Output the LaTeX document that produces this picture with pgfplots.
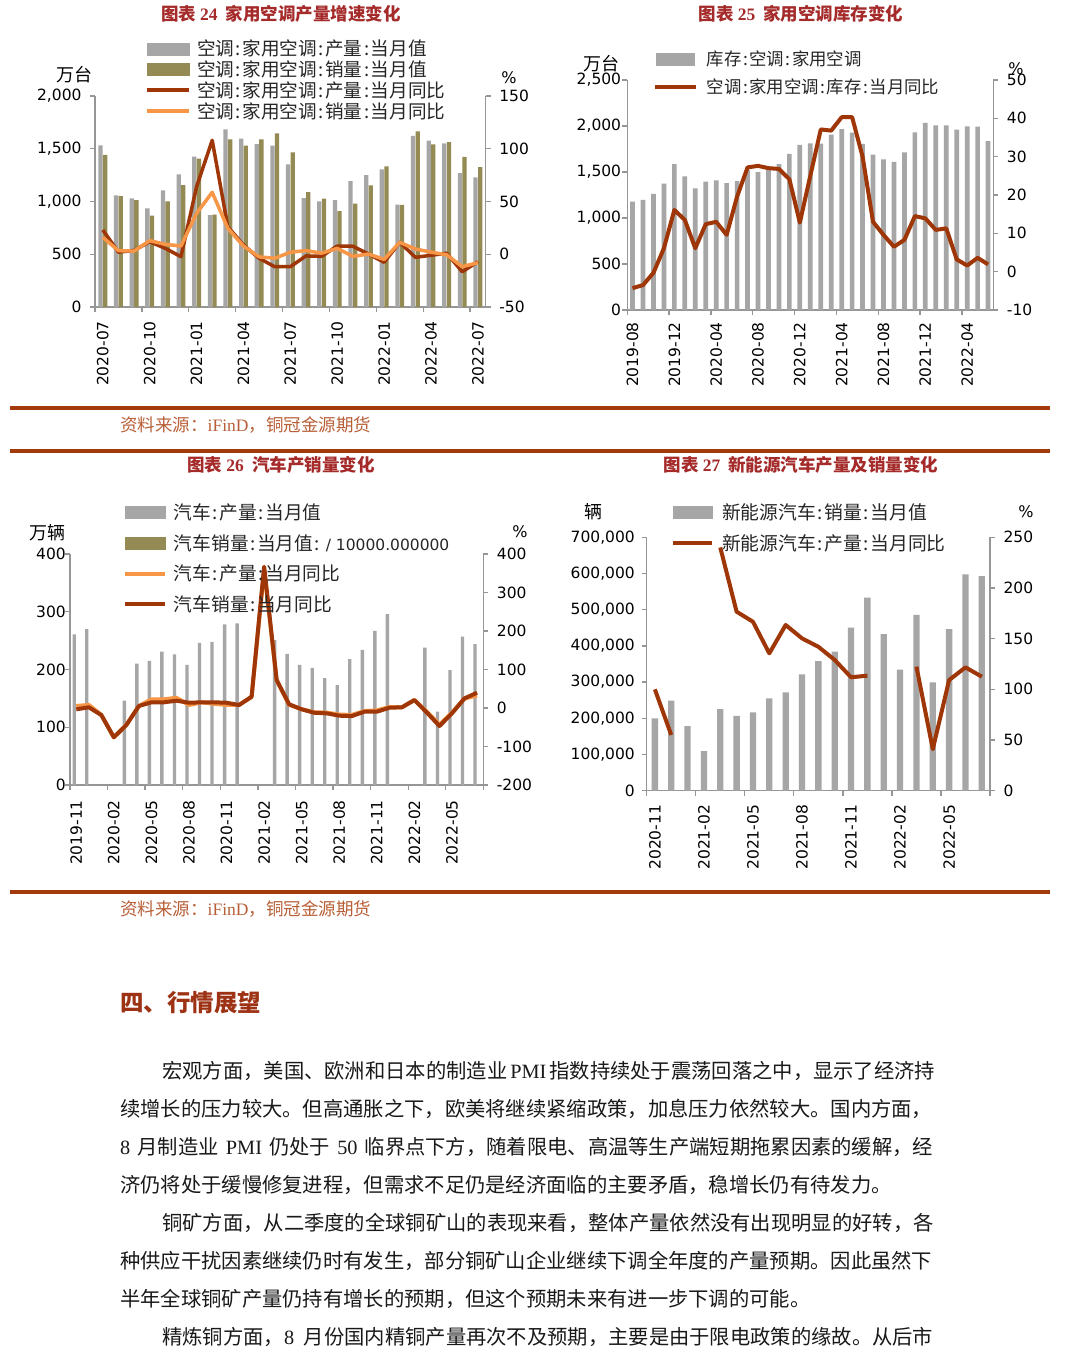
\documentclass[border=0pt]{standalone}
\usepackage{pgfplots}
\pgfplotsset{compat=1.18}
\usepackage{pgfplotstable}
\usepackage{fontspec}
\setmainfont{Noto Sans CJK SC}
\newfontfamily\tickfont{DejaVu Sans}
\newfontfamily\lserif{Liberation Serif}
\newcommand\cl{\makebox[0.45em]{:}}

\definecolor{barGray}{RGB}{166,166,166}
\definecolor{barOlive}{RGB}{148,138,84}
\definecolor{lineDark}{RGB}{158,54,8}
\definecolor{lineOrange}{RGB}{247,150,70}
\definecolor{axGray}{RGB}{150,150,150}
\definecolor{titleRed}{RGB}{165,42,42}
\definecolor{ruleBrown}{RGB}{163,58,11}
\definecolor{srcBrown}{RGB}{184,95,55}
\definecolor{headRed}{RGB}{158,50,20}
\definecolor{bodyText}{RGB}{25,25,25}

\pgfplotstableread{
x p s py sy
0.5 1533 1441 23 16
1.5 1059 1052 2 3.4
2.5 1030 1014 3.6 3
3.5 935 866 11.9 12.9
4.5 1106 1002 5.6 9.4
5.5 1258 1156 -2.3 7.8
6.5 1425 1406 64 38.8
7.5 872 875 108 58.7
8.5 1684 1589 26 24.6
9.5 1595 1529 8.8 7.8
10.5 1545 1589 -3.8 -2.5
11.5 1529 1646 -11.8 -3.8
12.5 1352 1466 -11.8 1.9
13.5 1033 1090 -1.6 3.5
14.5 1002 1027 -2 1
15.5 1014 910 7.8 5.6
16.5 1194 979 7.6 -2
17.5 1251 1153 0.2 0.2
18.5 1305 1333 -7.6 -4.9
19.5 970 967 11.3 11.3
20.5 1621 1665 -2.9 5
21.5 1576 1542 -1 2
22.5 1551 1564 1 -0.5
23.5 1270 1422 -16.6 -11.8
24.5 1229 1327 -7 -8
}\tA

\pgfplotstableread{
x v y
0.5 1177 -4.3
1.5 1196 -3.5
2.5 1261 -0.3
3.5 1373 6.1
4.5 1587 16.1
5.5 1453 13.5
6.5 1323 6.1
7.5 1395 12.4
8.5 1410 13.0
9.5 1380 9.6
10.5 1402 19.6
11.5 1520 27.2
12.5 1500 27.6
13.5 1522 27.0
14.5 1587 26.8
15.5 1696 24.1
16.5 1794 12.8
17.5 1812 25.0
18.5 1808 37.1
19.5 1906 36.8
20.5 1967 40.3
21.5 1928 40.3
22.5 1805 30.0
23.5 1688 13.0
24.5 1638 9.6
25.5 1609 6.5
26.5 1714 8.3
27.5 1931 14.5
28.5 2033 13.9
29.5 2008 10.9
30.5 2008 11.3
31.5 1960 3.2
32.5 1997 1.6
33.5 1993 3.6
34.5 1837 1.9
}\tB

\pgfplotstableread{
x v sy py
0.5 261 -3.4 5.2
1.5 270 1.8 8
2.5 nan -18.2 -18
3.5 nan -76 -76
4.5 146 -44.2 -44
5.5 210 5.2 5
6.5 215 14.8 22.6
7.5 231 14.8 22.6
8.5 226 19 26.7
9.5 208 13.7 7.8
10.5 246 14.8 14.8
11.5 248 14.8 11
12.5 278 13.7 8
13.5 280 7.8 8
14.5 nan 29.3 29
15.5 nan 367 360
16.5 251 72.7 72
17.5 227 9.6 8
18.5 208 -3.4 -3
19.5 203 -12.3 -11
20.5 185 -13.8 -12
21.5 173 -20 -17
22.5 218 -21 -18
23.5 234 -9.7 -8
24.5 267 -9.7 -6
25.5 296 0.7 2.5
26.5 nan 1.8 1.8
27.5 nan 20.7 20.7
28.5 238 -12 -10
29.5 127 -46.8 -43
30.5 199 -13.8 -12
31.5 257 25 25
32.5 244 39.7 32
}\tC

\pgfplotstableread{
x v y
0.5 200000 100
1.5 248600 55
2.5 178700 nan
3.5 109700 nan
4.5 225700 240
5.5 206400 176.6
6.5 216500 166.7
7.5 255200 135.5
8.5 271700 163.5
9.5 321500 150.3
10.5 358300 142
11.5 384000 129
12.5 450300 111.9
13.5 533200 113.5
14.5 432800 nan
15.5 334300 nan
16.5 485400 122.4
17.5 299400 41
18.5 446700 109.2
19.5 597700 121.7
20.5 593100 112.5
}\tD

\pgfplotsset{
  cbase/.style={
    scale only axis, anchor=south west, clip=false,
    axis line style={draw=axGray, line width=1.3pt},
    tick style={draw=axGray, line width=1.3pt},
    tick align=outside,
    major tick length=5pt, minor tick length=5pt,
    tick label style={font=\tickfont\fontsize{15.5}{15.5}\selectfont, text=black, inner sep=0pt},
    scaled y ticks=false,
  },
  cleft/.style={cbase, axis x line*=bottom, axis y line*=left,
    major x tick style={draw=none},
    xticklabel style={rotate=90, anchor=east},
  },
  cright/.style={cbase, axis x line=none, axis y line*=right,
    yticklabel shift=8.4pt,
  },
}

\begin{document}
\begin{tikzpicture}
\path[use as bounding box, fill=white] (0pt,0pt) rectangle (1070pt,-1358pt);

% ---------- titles ----------
\begin{scope}[every node/.style={font=\bfseries\fontsize{17.5}{17.5}\selectfont, text=titleRed}]
\node at (281pt,-14pt) {图表 {\lserif\bfseries 24}\ \ 家用空调产量增速变化};
\node at (801pt,-14pt) {图表 {\lserif\bfseries 25}\ \ 家用空调库存变化};
\node at (281pt,-465pt) {图表 {\lserif\bfseries 26}\ \ 汽车产销量变化};
\node at (801pt,-465pt) {图表 {\lserif\bfseries 27}\ \ 新能源汽车产量及销量变化};
\end{scope}

% ---------- chart 24 ----------
\begin{axis}[cleft, at={(95pt,-307pt)}, width=390.7pt, height=211pt,
  xmin=0, xmax=25, ymin=0, ymax=2000,
  xtick={0.5,3.5,...,24.5},
  xticklabels={2020-07,2020-10,2021-01,2021-04,2021-07,2021-10,2022-01,2022-04,2022-07},
  minor xtick={0,3,...,24}, xticklabel shift=9pt,
  ytick={0,500,1000,1500,2000}, yticklabels={0,500,{1,000},{1,500},{2,000}},
  yticklabel shift=8.3pt,
  ybar, bar width=4.3pt]
\addplot[fill=barGray, draw=none, bar shift=-2.3pt] table[x=x,y=p] {\tA};
\addplot[fill=barOlive, draw=none, bar shift=2.3pt] table[x=x,y=s] {\tA};
\end{axis}
\begin{axis}[cright, at={(95pt,-307pt)}, width=390.7pt, height=211pt,
  xmin=0, xmax=25, ymin=-50, ymax=150,
  ytick={-50,0,50,100,150}, yticklabels={-50,0,50,100,150},
  legend style={at={(axis description cs:0.128,1.272)}, anchor=north west,
    draw=none, fill=none, inner sep=0pt, outer sep=0pt,
    font=\fontsize{18.6}{18.6}\selectfont, text=black!85,
    row sep=0pt, column sep=6pt,
    nodes={inner sep=0pt, text height=17.35pt, text depth=3.35pt}},
  legend cell align=left]
\addplot[lineDark, line width=3.5pt, line join=round, forget plot] table[x=x,y=py] {\tA};
\addplot[lineOrange, line width=3.5pt, line join=round, forget plot] table[x=x,y=sy] {\tA};
\addlegendimage{legend image code/.code={\fill[barGray] (0pt,-6pt) rectangle (42pt,6pt);}}
\addlegendentry{空调\cl 家用空调\cl 产量\cl 当月值}
\addlegendimage{legend image code/.code={\fill[barOlive] (0pt,-6pt) rectangle (42pt,6pt);}}
\addlegendentry{空调\cl 家用空调\cl 销量\cl 当月值}
\addlegendimage{legend image code/.code={\draw[lineDark, line width=4pt] (0pt,0pt) -- (42pt,0pt);}}
\addlegendentry{空调\cl 家用空调\cl 产量\cl 当月同比}
\addlegendimage{legend image code/.code={\draw[lineOrange, line width=4pt] (0pt,0pt) -- (42pt,0pt);}}
\addlegendentry{空调\cl 家用空调\cl 销量\cl 当月同比}
\end{axis}
\node[font=\fontsize{18}{18}\selectfont] at (74pt,-75pt) {万台};
\node[font=\tickfont\fontsize{16}{16}\selectfont] at (509pt,-78pt) {\%};

% ---------- chart 25 ----------
\begin{axis}[cleft, at={(627.3pt,-310pt)}, width=366pt, height=230pt,
  xmin=0, xmax=35, ymin=0, ymax=2500,
  xtick={0.5,4.5,...,32.5},
  xticklabels={2019-08,2019-12,2020-04,2020-08,2020-12,2021-04,2021-08,2021-12,2022-04},
  minor xtick={0,4,...,32}, xticklabel shift=7pt,
  ytick={0,500,1000,1500,2000,2500}, yticklabels={0,500,{1,000},{1,500},{2,000},{2,500}},
  yticklabel shift=1pt,
  ybar, bar width=4.7pt]
\addplot[fill=barGray, draw=none, bar shift=0pt] table[x=x,y=v] {\tB};
\end{axis}
\begin{axis}[cright, at={(627.3pt,-310pt)}, width=366pt, height=230pt,
  xmin=0, xmax=35, ymin=-10, ymax=50,
  ytick={-10,0,10,20,30,40,50}, yticklabels={-10,0,10,20,30,40,50},
  legend style={at={(axis description cs:0.070,1.152)}, anchor=north west,
    draw=none, fill=none, inner sep=0pt, outer sep=0pt,
    font=\fontsize{17.4}{17.4}\selectfont, text=black!85,
    row sep=0pt, column sep=9pt,
    nodes={inner sep=0pt, text height=20.6pt, text depth=7.4pt}},
  legend cell align=left]
\addplot[lineDark, line width=4pt, line join=round, forget plot] table[x=x,y=y] {\tB};
\addlegendimage{legend image code/.code={\fill[barGray] (0pt,-6pt) rectangle (38pt,6pt);}}
\addlegendentry{库存\cl 空调\cl 家用空调}
\addlegendimage{legend image code/.code={\draw[lineDark, line width=4pt] (-1pt,0pt) -- (40pt,0pt);}}
\addlegendentry{空调\cl 家用空调\cl 库存\cl 当月同比}
\end{axis}
\node[font=\fontsize{18}{18}\selectfont] at (601pt,-64pt) {万台};
\node[font=\tickfont\fontsize{16}{16}\selectfont] at (1016pt,-69pt) {\%};

% ---------- rules & source 1 ----------
\fill[ruleBrown] (10pt,-406pt) rectangle (1050pt,-410pt);
\node[anchor=west, font=\fontsize{17.5}{17.5}\selectfont, text=srcBrown, inner sep=0pt] at (120pt,-425pt) {资料来源：{\lserif iFinD}，铜冠金源期货};
\fill[ruleBrown] (10pt,-449pt) rectangle (1050pt,-453pt);

% ---------- chart 26 ----------
\begin{axis}[cleft, at={(70pt,-785pt)}, width=413.3pt, height=231pt,
  xmin=0, xmax=33, ymin=0, ymax=400,
  xtick={0.5,3.5,...,30.5},
  xticklabels={2019-11,2020-02,2020-05,2020-08,2020-11,2021-02,2021-05,2021-08,2021-11,2022-02,2022-05},
  minor xtick={0,3,...,33}, xticklabel shift=10pt,
  ytick={0,100,200,300,400}, yticklabels={0,100,200,300,400},
  yticklabel shift=-1pt,
  ybar, bar width=3.4pt]
\addplot[fill=barGray, draw=none, bar shift=-2pt] table[x=x,y=v] {\tC};
\end{axis}
\begin{axis}[cright, at={(70pt,-785pt)}, width=413.3pt, height=231pt,
  xmin=0, xmax=33, ymin=-200, ymax=400,
  ytick={-200,-100,0,100,200,300,400}, yticklabels={-200,-100,0,100,200,300,400},
  legend style={at={(axis description cs:0.128,1.247)}, anchor=north west,
    draw=none, fill=none, inner sep=0pt, outer sep=0pt,
    font=\fontsize{18.7}{18.7}\selectfont, text=black!85,
    row sep=0pt, column sep=7pt,
    nodes={inner sep=0pt, text height=22.45pt, text depth=8.25pt}},
  legend cell align=left]
\addplot[lineOrange, line width=4pt, line join=round, forget plot] table[x=x,y=py] {\tC};
\addplot[lineDark, line width=4pt, line join=round, forget plot] table[x=x,y=sy] {\tC};
\addlegendimage{legend image code/.code={\fill[barGray] (0pt,-6pt) rectangle (40pt,6pt);}}
\addlegendentry{汽车\cl 产量\cl 当月值}
\addlegendimage{legend image code/.code={\fill[barOlive] (0pt,-6pt) rectangle (40pt,6pt);}}
\addlegendentry{汽车销量\cl 当月值\cl\ {\tickfont\fontsize{15.5}{15.5}\selectfont / 10000.000000}}
\addlegendimage{legend image code/.code={\draw[lineOrange, line width=4pt] (0pt,0pt) -- (40pt,0pt);}}
\addlegendentry{汽车\cl 产量\cl 当月同比}
\addlegendimage{legend image code/.code={\draw[lineDark, line width=4pt] (0pt,0pt) -- (40pt,0pt);}}
\addlegendentry{汽车销量\cl 当月同比}
\end{axis}
\node[font=\fontsize{18}{18}\selectfont] at (47pt,-533pt) {万辆};
\node[font=\tickfont\fontsize{16}{16}\selectfont] at (520pt,-532pt) {\%};

% ---------- chart 27 ----------
\begin{axis}[cleft, at={(646.7pt,-790.7pt)}, width=343.3pt, height=253.4pt,
  xmin=0, xmax=21, ymin=0, ymax=700000,
  xtick={0.5,3.5,...,18.5},
  xticklabels={2020-11,2021-02,2021-05,2021-08,2021-11,2022-02,2022-05},
  minor xtick={0,3,...,21}, xticklabel shift=9pt,
  ytick={0,100000,200000,300000,400000,500000,600000,700000},
  yticklabels={0,{100,000},{200,000},{300,000},{400,000},{500,000},{600,000},{700,000}},
  yticklabel shift=6.7pt,
  ybar, bar width=6.3pt]
\addplot[fill=barGray, draw=none, bar shift=0pt] table[x=x,y=v] {\tD};
\end{axis}
\begin{axis}[cright, at={(646.7pt,-790.7pt)}, width=343.3pt, height=253.4pt,
  xmin=0, xmax=21, ymin=0, ymax=250,
  ytick={0,50,100,150,200,250}, yticklabels={0,50,100,150,200,250},
  unbounded coords=jump,
  legend style={at={(axis description cs:0.0708,1.161)}, anchor=north west,
    draw=none, fill=none, inner sep=0pt, outer sep=0pt,
    font=\fontsize{18.8}{18.8}\selectfont, text=black!85,
    row sep=0pt, column sep=8pt,
    nodes={inner sep=0pt, text height=22.6pt, text depth=8.4pt}},
  legend cell align=left]
\addplot[lineDark, line width=4pt, line join=round, forget plot] table[x=x,y=y] {\tD};
\addlegendimage{legend image code/.code={\fill[barGray] (0pt,-6pt) rectangle (39pt,6pt);}}
\addlegendentry{新能源汽车\cl 销量\cl 当月值}
\addlegendimage{legend image code/.code={\draw[lineDark, line width=4pt] (0pt,0pt) -- (39pt,0pt);}}
\addlegendentry{新能源汽车\cl 产量\cl 当月同比}
\end{axis}
\node[font=\fontsize{18}{18}\selectfont] at (593pt,-512pt) {辆};
\node[font=\tickfont\fontsize{16}{16}\selectfont] at (1026pt,-512pt) {\%};

% ---------- rule & source 2 ----------
\fill[ruleBrown] (10pt,-889.5pt) rectangle (1050pt,-893.5pt);
\node[anchor=west, font=\fontsize{17.5}{17.5}\selectfont, text=srcBrown, inner sep=0pt] at (120pt,-909pt) {资料来源：{\lserif iFinD}，铜冠金源期货};

% ---------- section text ----------
\node[anchor=west, inner sep=0pt, font=\bfseries\fontsize{23.5}{23.5}\selectfont, text=headRed] at (120pt,-1003pt) {四、行情展望};
\begin{scope}[every node/.style={anchor=west, inner sep=0pt, font=\fontsize{20.3}{20.3}\selectfont, text=bodyText}]
\node at (162pt,-1071pt) {宏观方面，美国、欧洲和日本的制造业\hspace{3pt}{\lserif PMI}\hspace{3pt}指数持续处于震荡回落之中，显示了经济持};
\node at (120pt,-1109pt) {续增长的压力较大。但高通胀之下，欧美将继续紧缩政策，加息压力依然较大。国内方面，};
\node at (120pt,-1147pt) {\makebox[813pt][s]{{\lserif 8} 月制造业 {\lserif PMI} 仍处于 {\lserif 50} 临界点下方，随着限电、高温等生产端短期拖累因素的缓解，经}};
\node at (120pt,-1185pt) {济仍将处于缓慢修复进程，但需求不足仍是经济面临的主要矛盾，稳增长仍有待发力。};
\node at (162pt,-1223pt) {铜矿方面，从二季度的全球铜矿山的表现来看，整体产量依然没有出现明显的好转，各};
\node at (120pt,-1261pt) {种供应干扰因素继续仍时有发生，部分铜矿山企业继续下调全年度的产量预期。因此虽然下};
\node at (120pt,-1299pt) {半年全球铜矿产量仍持有增长的预期，但这个预期未来有进一步下调的可能。};
\node at (162pt,-1337pt) {\makebox[771pt][s]{精炼铜方面，{\lserif 8} 月份国内精铜产量再次不及预期，主要是由于限电政策的缘故。从后市}};
\end{scope}
\end{tikzpicture}
\end{document}
